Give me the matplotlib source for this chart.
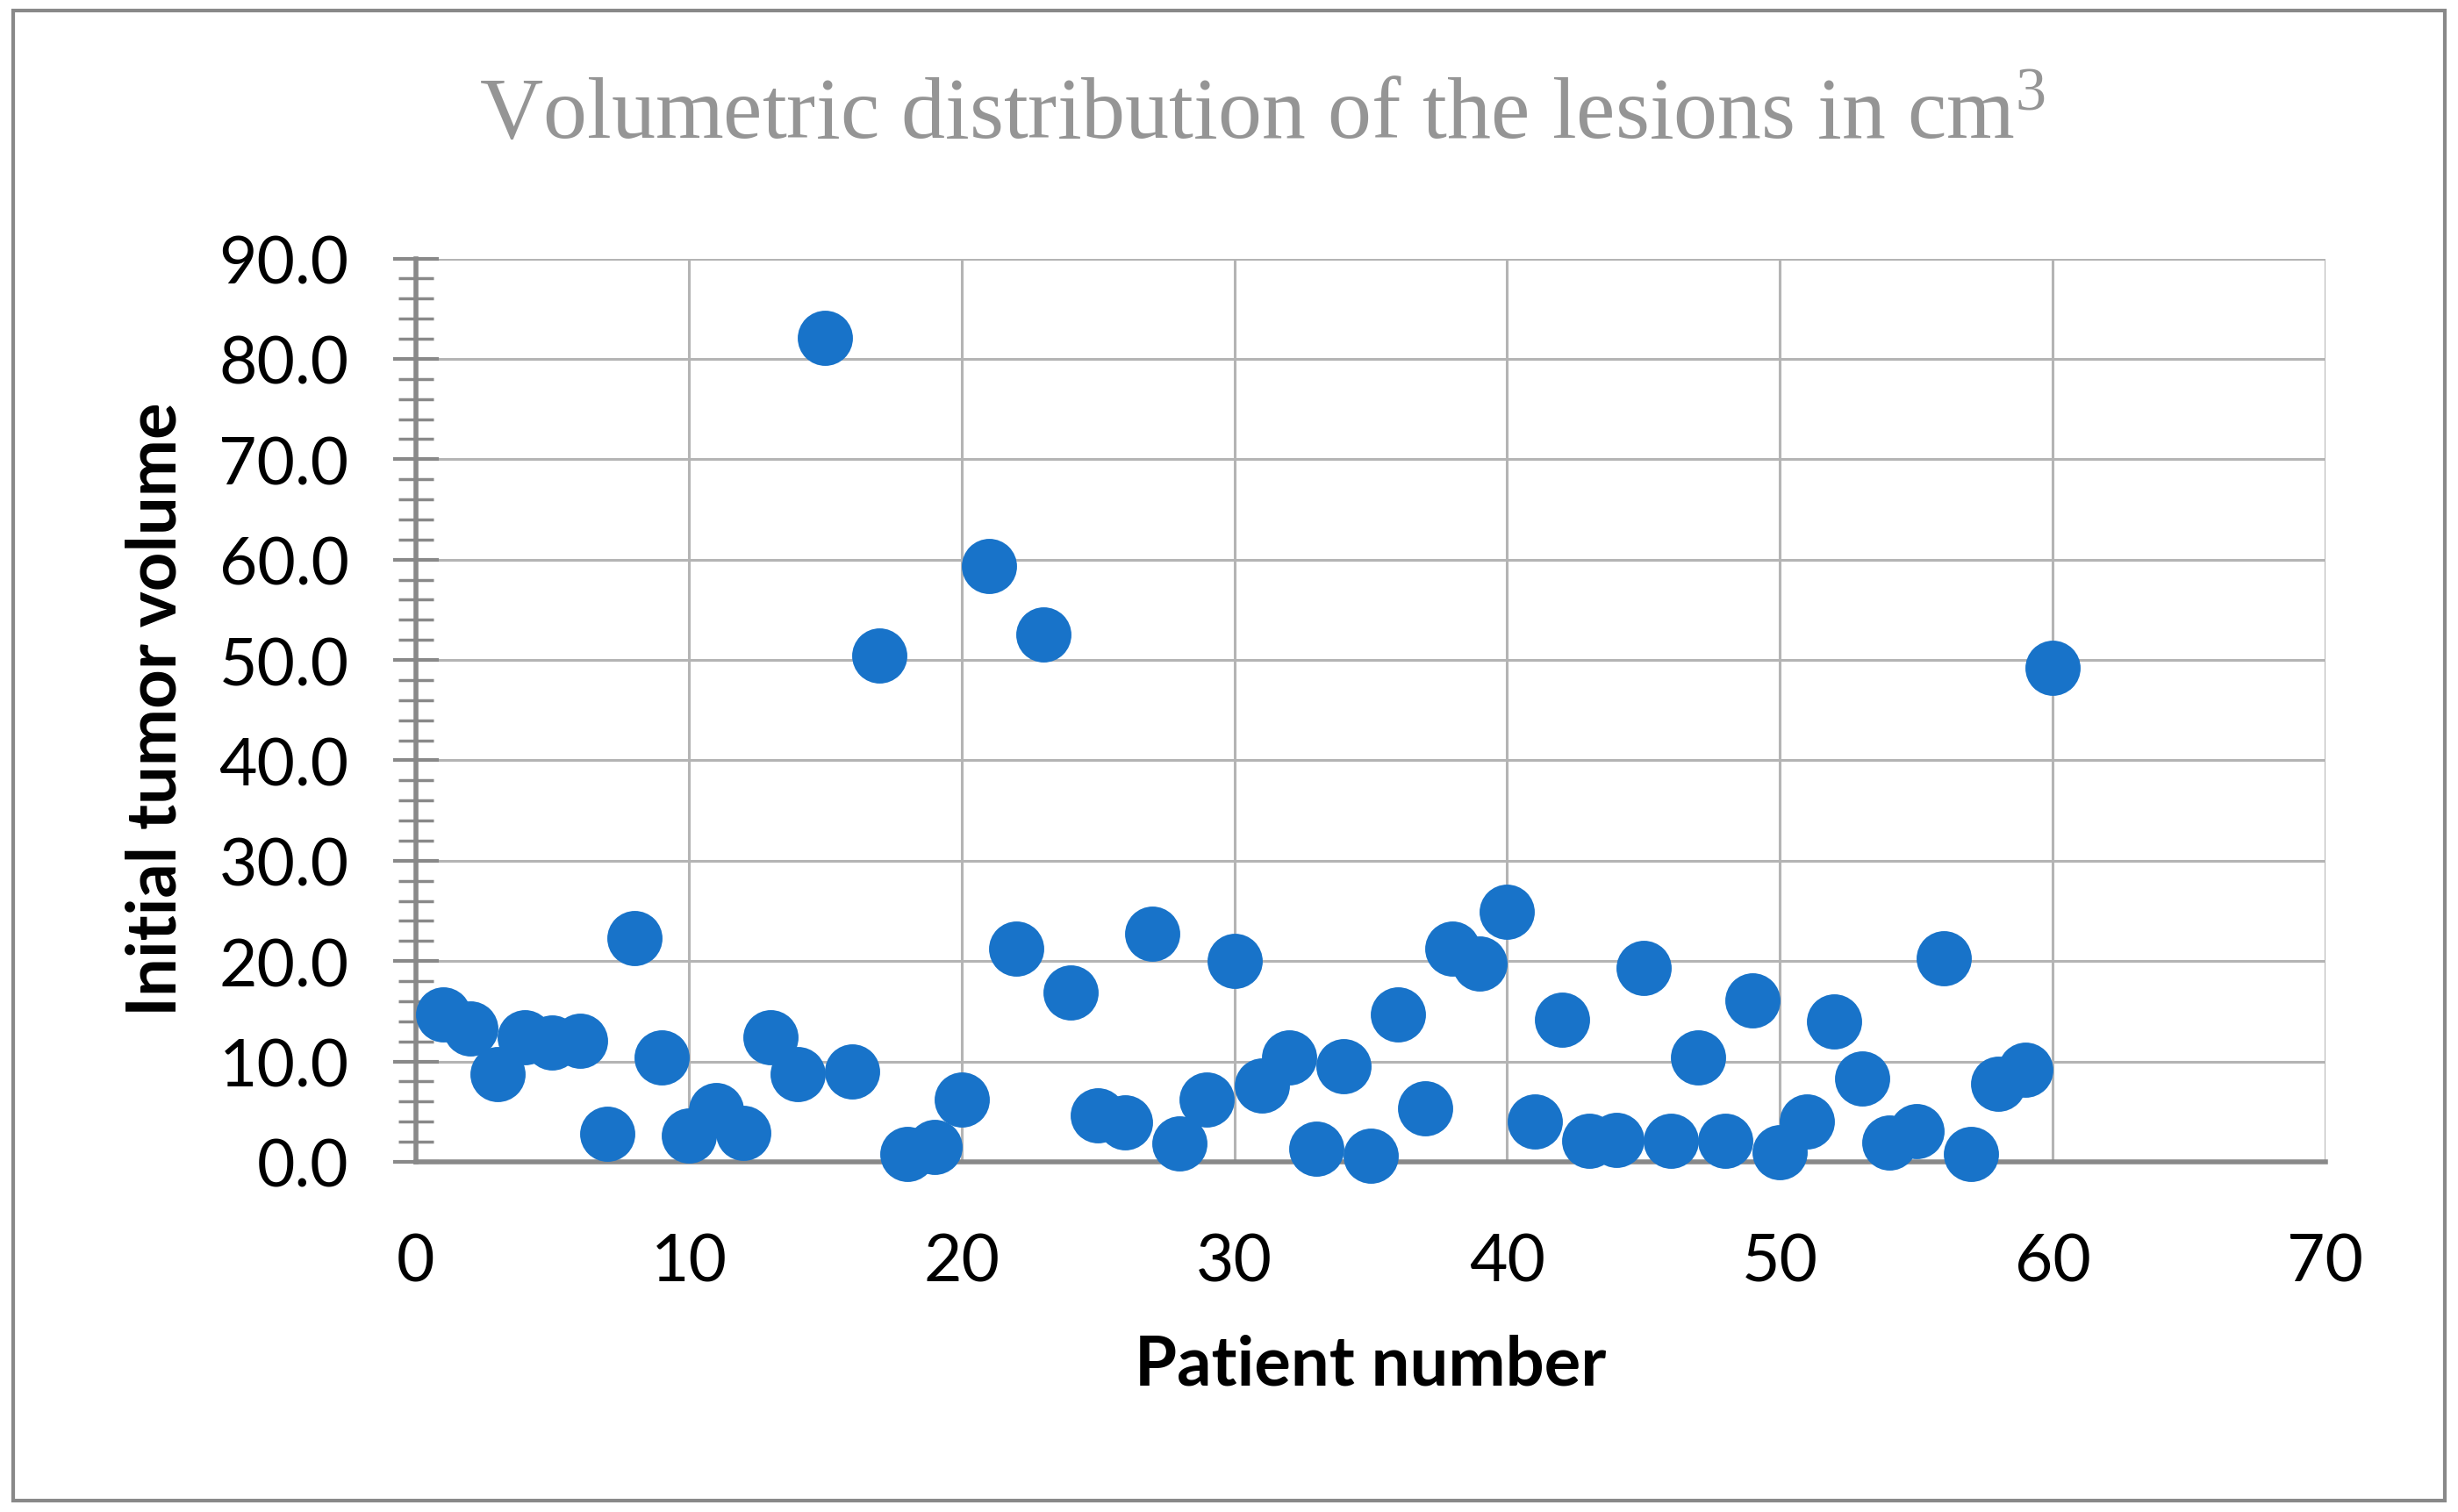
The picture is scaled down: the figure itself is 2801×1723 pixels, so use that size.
import matplotlib
matplotlib.use("Agg")
import matplotlib.pyplot as plt
from matplotlib.ticker import MultipleLocator, FormatStrFormatter
from matplotlib.patches import Rectangle

plt.rcParams["mathtext.fontset"] = "custom"
plt.rcParams["mathtext.rm"] = "Liberation Serif"
plt.rcParams["mathtext.it"] = "Liberation Serif:italic"
plt.rcParams["mathtext.bf"] = "Liberation Serif:bold"

patients = list(range(1, 61))
volumes = [14.7, 13.3, 8.7, 12.4, 11.9, 12.1, 2.8, 22.3, 10.4, 2.6,
           5.2, 2.9, 12.4, 8.7, 82.1, 9.0, 50.4, 0.8, 1.5, 6.2,
           59.4, 21.2, 52.5, 16.9, 4.6, 3.9, 22.7, 1.8, 6.2, 20.0,
           7.6, 10.4, 1.3, 9.5, 0.6, 14.7, 5.3, 21.2, 19.8, 24.9,
           4.0, 14.2, 2.1, 2.2, 19.3, 2.1, 10.4, 2.1, 16.1, 1.0,
           4.0, 14.0, 8.3, 1.9, 3.1, 20.3, 0.8, 7.8, 9.2, 49.2]
x_ticks = [0, 10, 20, 30, 40, 50, 60, 70]
y_ticks = [0, 10, 20, 30, 40, 50, 60, 70, 80, 90]

title = "Volumetric distribution of the lesions in cm$^{\\mathrm{3}}$"
xlabel = "Patient number"
ylabel = "Initial tumor volume"

W, H = 2801, 1724
fig = plt.figure(figsize=(W / 100, H / 100), dpi=100)
ax = fig.add_axes([474 / W, 1 - 1325 / H, (2650 - 474) / W, (1325 - 295.5) / H])

axis_col = "#898989"
grid_col = "#b4b4b4"

ax.scatter(patients, volumes, s=2050, color="#1873c9", zorder=5, clip_on=False, linewidths=0)

ax.set_xlim(0, 70)
ax.set_ylim(0, 90)
ax.set_xticks(x_ticks)
ax.set_yticks(y_ticks)
ax.yaxis.set_minor_locator(MultipleLocator(2))
ax.yaxis.set_major_formatter(FormatStrFormatter("%.1f"))

ax.grid(True, which="major", color=grid_col, linewidth=2.2, zorder=0)
ax.set_axisbelow(True)

for s in ["top", "right"]:
    ax.spines[s].set_visible(False)
for s in ["left", "bottom"]:
    ax.spines[s].set_color(axis_col)
    ax.spines[s].set_linewidth(4)
    ax.spines[s].set_zorder(3)

ax.tick_params(axis="y", which="major", direction="inout", length=38, width=3,
               color=axis_col, pad=36)
ax.tick_params(axis="y", which="minor", direction="inout", length=29, width=2.5,
               color=axis_col)
ax.tick_params(axis="x", which="major", length=0, pad=57)
for lab in ax.get_xticklabels() + ax.get_yticklabels():
    lab.set_fontfamily(["Lato", "DejaVu Sans"])
    lab.set_fontsize(54)
    lab.set_color("black")

fig.text(1438 / W, 1 - 158 / H, title, ha="center", va="baseline",
         family=["Liberation Serif", "DejaVu Serif"], size=72, color="#959595")
fig.text(1562 / W, 1 - 1557 / H, xlabel, ha="center", va="center",
         family=["Lato", "DejaVu Sans"], weight="bold", size=56, color="black")
fig.text(179 / W, 1 - 808 / H, ylabel, ha="center", va="center", rotation=90,
         family=["Lato", "DejaVu Sans"], weight="bold", size=56, color="black")

fig.patches.append(Rectangle((15 / W, 1 - 1711 / H), (2786 - 15) / W, (1711 - 13) / H,
                             transform=fig.transFigure, fill=False,
                             edgecolor=axis_col, linewidth=3))

fig.savefig("out.png", dpi=100)
